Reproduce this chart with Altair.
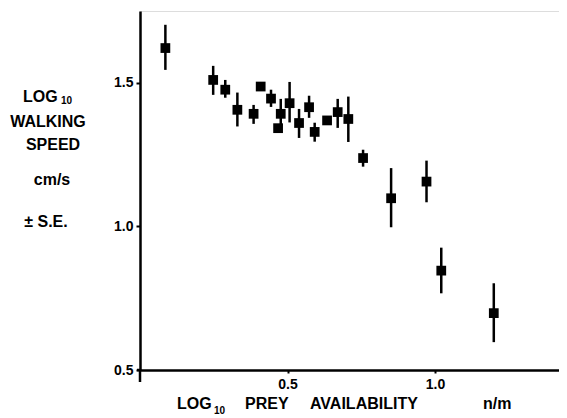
import altair as alt
import pandas as pd

# Data
prey = [0.086, 0.248, 0.289, 0.330, 0.385, 0.409, 0.444, 0.477, 0.468, 0.507,
        0.539, 0.573, 0.592, 0.634, 0.670, 0.706, 0.756, 0.851, 0.971, 1.021, 1.199]
speed = [1.621, 1.510, 1.476, 1.406, 1.392, 1.487, 1.445, 1.392, 1.342, 1.429,
         1.360, 1.415, 1.329, 1.369, 1.398, 1.374, 1.238, 1.098, 1.156, 0.846, 0.698]
err_hi = [1.702, 1.559, 1.510, 1.466, 1.423, None, 1.476, 1.444, None, 1.503,
          1.409, 1.455, 1.361, None, 1.444, 1.452, 1.267, 1.203, 1.229, 0.926, 0.802]
err_lo = [1.545, 1.458, 1.448, 1.348, 1.357, None, 1.416, 1.336, None, 1.362,
          1.308, 1.378, 1.295, None, 1.343, 1.294, 1.208, 0.997, 1.084, 0.767, 0.597]

x_ticks = [0.5, 1.0]
y_ticks = [0.5, 1.0, 1.5]

pts = pd.DataFrame({"x": prey, "y": speed})
errs = pd.DataFrame({"x": prey, "lo": err_lo, "hi": err_hi}).dropna()

FONT = "Liberation Sans"
xs = alt.Scale(domain=[0, 1.42], nice=False, zero=False)
ys = alt.Scale(domain=[0.5, 1.75], nice=False, zero=False)

xax = alt.Axis(values=x_ticks, format=".1f", title=None, grid=False,
               domainColor="black", domainWidth=2.5, tickColor="black",
               tickWidth=2, tickSize=3, labelPadding=4, labelFont=FONT,
               labelFontSize=14, labelFontWeight="bold", labelColor="black")
yax = alt.Axis(values=y_ticks, format=".1f", title=None, grid=False,
               domainColor="black", domainWidth=2.5, tickColor="black",
               tickWidth=2, tickSize=4, labelPadding=3, labelFont=FONT,
               labelFontSize=14, labelFontWeight="bold", labelColor="black")

bars = alt.Chart(errs).mark_rule(color="black", strokeWidth=2.5).encode(
    x=alt.X("x:Q", scale=xs, axis=xax),
    y=alt.Y("lo:Q", scale=ys, axis=yax),
    y2="hi:Q",
)
squares = alt.Chart(pts).mark_square(size=95, color="black", opacity=1, filled=True).encode(
    x=alt.X("x:Q", scale=xs),
    y=alt.Y("y:Q", scale=ys),
)

# small extensions where the two axes cross
cross_v = alt.Chart(pd.DataFrame({"a": [0]})).mark_rule(color="black", strokeWidth=2.5).encode(
    x=alt.value(0), y=alt.value(358), y2=alt.value(371))
cross_h = alt.Chart(pd.DataFrame({"a": [0]})).mark_rule(color="black", strokeWidth=2.5).encode(
    x=alt.value(-3), x2=alt.value(1), y=alt.value(359))

# text labels (plot coordinates: page x - 140, page y - 11)
labels = [
    # text, x, y(baseline), align, size
    ("LOG", -117, 91, "left", 16),
    ("10", -79, 93, "left", 10),
    ("WALKING", -92, 116, "center", 16),
    ("SPEED", -87, 139, "center", 16),
    ("cm/s", -88, 174, "center", 16),
    ("± S.E.", -94, 216, "center", 16),
    ("LOG", 37, 398, "left", 16),
    ("10", 74, 403, "left", 10),
    ("PREY", 105, 398, "left", 16),
    ("AVAILABILITY", 170, 398, "left", 16),
    ("n/m", 343, 398, "left", 16),
]
text_layers = []
for t, xv, yv, al, sz in labels:
    text_layers.append(
        alt.Chart(pd.DataFrame({"t": [t]})).mark_text(
            font=FONT, fontWeight="bold", fontSize=sz, color="black",
            align=al, baseline="alphabetic"
        ).encode(text="t:N", x=alt.value(xv), y=alt.value(yv))
    )

chart = alt.layer(bars, squares, cross_v, cross_h, *text_layers).properties(
    width=419, height=359,
    autosize=alt.AutoSizeParams(type="none"),
    padding={"left": 132, "top": 3, "right": 0, "bottom": 45},
).configure_view(stroke=None).configure(background="white")

chart.save("out.html", embed_options={"renderer": "svg", "actions": False})
